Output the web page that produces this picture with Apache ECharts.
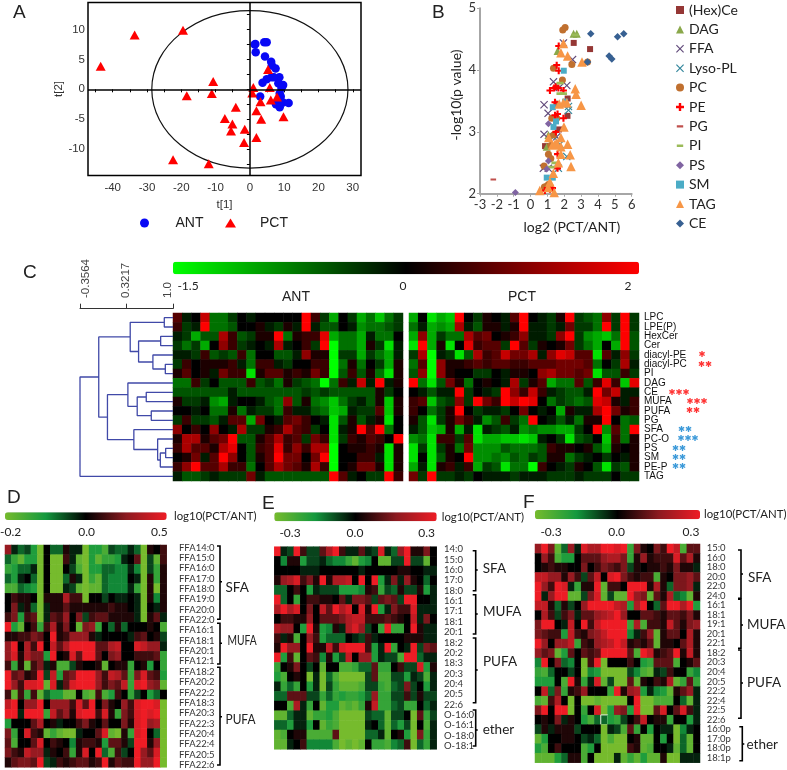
<!DOCTYPE html>
<html>
<head>
    <meta charset="UTF-8">
    <title></title>
    <style>html,body{margin:0;padding:0;background:#fff}</style>
</head>
<body>
    <div id="main" style="width:787px;height:770px"></div>
    <script src="https://cdn.jsdelivr.net/npm/echarts@6/dist/echarts.min.js"></script>
    <script>
        /* A: score plot */
        var antScores = [[1.6,7.6],[1.4,7.5],[4.2,7.9],[4.9,7.9],[1.7,6.2],[4.4,5.5],[6.2,4.6],[6.4,4.0],[7.5,3.5],[8.6,2.0],[6.3,2.0],[4.9,1.7],[3.7,1.1],[8.3,1.0],[9.7,0.7],[9.2,0.2],[8.7,-0.7],[9.0,-1.2],[3.0,-1.2],[7.6,-2.5],[8.7,-3.0],[9.7,-2.2],[11.3,-2.3],[8.6,-2.5],[7.0,2.0]];
        var pctScores = [[-43.5,3.85],[-33.6,9.1],[-19.5,9.9],[-10.7,1.3],[-11.1,-0.7],[-18.4,-1.1],[-4.1,-3.0],[-7.3,-4.9],[-5.1,-5.8],[-5.5,-7.0],[-1.5,-6.7],[-1.7,-8.9],[1.9,-8.1],[3.3,-5.0],[1.9,-3.6],[3.1,-2.1],[1.0,0.3],[0.7,-0.6],[5.3,3.3],[5.8,0.3],[6.1,-1.8],[7.9,-1.3],[9.8,-4.6],[-22.4,-11.8],[-12.0,-12.5]];
        var ellipseAxes = [0, 0, 28.6, 13.2];
        var aXTicks = [-45,-40,-35,-30,-25,-20,-15,-10,-5,0,5,10,15,20,25,30];
        var aXLabels = [-40,-30,-20,-10,0,10,20,30];
        var aYTicks = [-12.5,-10,-7.5,-5,-2.5,0,2.5,5,7.5,10,12.5];
        var aYLabels = [-10,-5,0,5,10];

        /* B: volcano plot */
        var bCer = [[2.56,4.44],[3.53,4.34],[2.2,3.54],[2.19,3.26],[1.69,3.04],[0.86,2.77]];
        var bDag = [[2.55,4.59],[2.74,4.59],[1.6,4.31],[1.06,2.95],[0.96,2.76]];
        var bFfa = [[1.95,4.44],[2.49,4.17],[1.36,3.81],[2.15,3.75],[1.71,3.72],[0.8,3.44],[1.04,3.3],[0.8,2.96],[1.55,2.92],[0.76,2.41],[1.05,2.41]];
        var bLyso = [[2.25,3.35],[2.25,3.41],[2.15,2.6],[1.65,2.41],[1.36,2.92],[1.75,2.8]];
        var bPc = [[2.05,4.69],[1.91,4.65],[1.36,4.03],[2.45,4.09],[1.89,3.84],[3.38,4.13],[1.26,3.22],[1.55,3.22],[1.55,3.45],[1.06,2.64],[1.2,2.57],[0.8,2.45],[0.82,2.11],[1.06,2.15],[1.36,2.95],[0.95,2.12],[1.2,2.78]];
        var bPe = [[1.67,4.39],[1.55,4.08],[1.67,3.99],[1.5,3.73],[1.15,3.67],[1.4,3.71],[1.65,3.71],[1.95,3.67],[1.45,3.48],[1.95,3.22],[1.45,3.27],[1.6,3.29],[1.5,3.0],[1.6,2.64],[1.6,2.41],[0.85,2.05],[1.15,2.07],[1.3,2.09]];
        var bPg = [[-2.21,2.23]];
        var bPi = [[2.65,4.57],[1.75,3.79],[1.75,3.62],[1.95,3.62],[1.45,2.5],[1.25,2.43]];
        var bPs = [[-0.9,2.02],[1.06,3.13],[1.06,2.53],[0.96,2.4]];
        var bSm = [[1.97,3.99],[1.32,3.4],[1.51,3.17],[1.36,3.08],[0.96,2.26],[1.32,2.26],[2.05,3.49]];
        var bTag = [[1.95,4.43],[1.8,4.28],[2.2,4.23],[3.05,4.13],[2.65,3.7],[2.7,3.61],[3.0,3.43],[1.95,3.47],[2.15,3.47],[1.7,3.45],[1.98,3.08],[1.8,2.91],[1.08,2.91],[1.45,2.8],[2.2,2.8],[1.8,2.76],[2.35,2.63],[1.8,2.64],[1.65,2.5],[2.4,2.44],[1.35,2.33],[1.15,2.19],[0.55,2.05],[1.4,2.02],[1.05,2.1],[1.55,2.82],[1.3,2.79]];
        var bCe = [[3.57,4.59],[5.16,4.54],[5.53,4.59],[4.66,4.23],[4.82,4.18],[3.38,4.13]];

        /* C: clustered heat map, levels -9 (green) .. 0 (black) .. 9 (red) */
        var cRowNames = ['LPC','LPE(P)','HexCer','Cer','diacyl-PE','diacyl-PC','PI','DAG','CE','MUFA','PUFA','PG','SFA','PC-O','PS','SM','PE-P','TAG'];
        var cAnt = [
            [3,-1,0,7,-4,-4,-2,0,-1,0,0,0,0,0,9,2,-2,-6,0,-2,-6,-4,-7,-4,-2],
            [2,-2,-1,9,-4,-4,-3,0,0,1,-1,-2,1,-1,9,-1,-3,-3,0,-1,-5,-4,-4,-3,-2],
            [-1,-2,-6,-3,-3,6,2,-3,-2,1,1,9,-4,1,2,2,8,-6,-4,-4,-6,-1,-4,-4,0],
            [-2,-4,-2,-6,0,5,2,-2,-1,0,-1,6,-1,0,2,-2,9,-9,-4,-4,-6,1,-2,-8,-1],
            [-1,-1,-2,2,-3,-2,-3,2,-4,0,0,-3,-3,-1,5,1,1,-9,-2,-2,-6,-2,-4,-6,-1],
            [-2,2,0,1,1,1,2,-1,-4,2,2,-1,-2,0,0,2,2,-9,-4,1,-4,0,-2,-6,1],
            [1,3,0,1,-1,4,2,2,-8,1,3,3,1,2,1,4,2,-9,-3,2,-3,1,-4,-8,1],
            [-4,-4,2,-2,0,-3,-3,-3,2,-3,-2,-4,1,-2,-3,-4,-9,-4,2,-1,7,-1,9,-1,1],
            [-3,-3,-3,-3,-3,-3,-1,-3,-3,-3,-3,-3,-3,-3,-2,-3,-2,-3,-3,-3,-3,-3,1,-2,0],
            [1,-2,-2,-1,-5,-6,-1,0,0,-1,-3,-4,5,-3,1,-4,-5,-7,-4,-2,-1,-3,1,-7,1],
            [0,0,-1,0,-4,-4,1,-4,-1,-2,-2,-4,2,-1,-1,-3,-4,-7,-6,-1,-2,-2,3,-7,1],
            [-2,2,-2,-2,-3,-1,3,3,-6,4,0,-1,3,4,2,0,-1,-8,-3,1,-3,-1,1,-8,0],
            [5,0,2,0,5,0,-1,6,-2,-2,1,2,6,3,2,-2,0,-8,-1,1,9,3,9,-4,0],
            [1,6,6,1,3,4,9,-3,-3,1,3,6,2,3,-2,4,2,-8,-2,2,1,3,2,0,9],
            [2,6,3,3,1,6,8,0,-3,2,3,8,2,5,2,6,6,-9,0,1,1,2,1,-8,1],
            [0,1,4,-1,3,9,5,0,-3,1,3,9,4,4,0,4,9,-9,0,0,2,2,-1,-8,1],
            [2,5,9,3,3,6,2,2,-4,0,3,6,4,3,1,6,2,-9,0,1,4,4,1,-8,1],
            [-1,-3,-3,-2,-1,-2,-2,-2,4,-1,-3,-3,-3,-3,-3,-3,-3,9,3,-1,0,-2,-2,9,2]
        ];
        var cPct = [
            [-6,0,-8,-6,-7,9,0,-2,1,0,-1,3,9,0,-1,-2,1,9,-2,-3,-4,5,-2,9,-2],
            [-4,-1,-6,-5,-6,6,-1,-3,1,1,-1,1,9,-1,-1,-2,-1,4,-2,-2,-4,9,-2,9,-2],
            [-6,5,-6,-2,-4,-4,6,3,4,0,1,2,5,-1,-1,-2,5,9,-2,-5,-6,-7,-4,9,-3],
            [-8,9,-6,1,-8,0,8,2,3,3,-2,9,3,-2,1,0,1,4,-2,-4,-6,0,-6,9,-3],
            [-2,6,-9,-1,-2,-8,-3,6,2,3,7,4,4,6,-1,5,8,7,3,3,-8,3,-1,5,-2],
            [-4,3,-9,5,1,1,2,3,2,3,3,2,2,3,3,3,4,4,4,3,-4,0,-2,6,-1],
            [-3,5,-9,5,1,0,0,-2,-2,0,-1,1,1,0,5,6,4,4,3,4,-8,-3,-3,2,-2],
            [9,-4,-8,-3,4,1,-4,0,1,0,-1,6,-2,1,3,-6,-4,-4,3,-3,2,8,2,-7,8],
            [0,-1,-3,-1,-1,9,-2,0,-1,-2,9,5,2,7,2,-1,-2,-3,-3,-1,9,4,7,-1,-1],
            [2,3,-7,-3,-2,5,-2,9,4,2,9,7,9,8,0,-4,-2,-3,-4,-3,8,7,1,-1,2],
            [2,0,-4,-2,1,9,0,-2,-1,-1,-2,0,4,0,-1,0,-6,1,-1,-1,6,9,4,1,2],
            [1,-3,-8,-2,1,4,2,-1,-5,-3,2,-2,-4,9,0,-1,-3,-1,-4,1,1,9,0,-4,-3],
            [-1,-3,-7,-6,1,-6,-1,-8,-1,-2,-3,-1,-5,-4,-5,-5,-6,-6,-2,0,9,-5,3,-4,9],
            [-5,-4,-8,2,2,-2,3,-8,-6,-6,-7,-7,-8,-7,-1,0,-2,-8,-3,-2,0,-7,2,-4,1],
            [-8,-2,-8,-2,1,-4,4,-5,-5,-5,-3,-4,-4,-4,-3,2,1,1,0,1,-3,-6,1,0,1],
            [-8,0,-8,-3,1,0,9,-5,-5,-4,-5,-3,-4,-2,-3,1,1,-4,-2,-1,0,-2,0,-1,1],
            [-6,-1,-8,1,2,-1,2,-6,-2,-3,-8,-4,-4,-9,2,0,-1,-2,1,0,-3,-8,-2,-3,1],
            [4,-2,9,-2,-2,-1,-2,0,-1,-1,-1,-2,-1,-1,-1,-2,-2,-2,-1,-2,-2,-2,0,-2,-2]
        ];
        /* merge similarity, child a, child b; children 0-17 are rows, 18+ are earlier merges */
        var cMerges = [[0.873,0,1],[0.820,2,3],[0.888,5,6],[0.707,4,20],[0.498,19,21],[0.376,18,22],[0.610,8,9],[0.683,10,11],[0.478,24,25],[0.342,7,26],[0.893,14,15],[0.815,28,16],[0.776,13,29],[0.429,12,30],[0.044,27,31],[-0.083,23,32],[-0.3564,33,17]];
        var cScale = [-0.3564, 0.3217, 1.0];
        var cStars = [['diacyl-PE',1,702,'#ff3333'],['diacyl-PC',2,705,'#ff3333'],['CE',3,679,'#ff3333'],['MUFA',3,697,'#ff3333'],['PUFA',2,693,'#ff3333'],['SFA',2,685,'#3d9ad9'],['PC-O',3,688,'#3d9ad9'],['PS',2,679,'#3d9ad9'],['SM',2,679,'#3d9ad9'],['PE-P',2,679,'#3d9ad9']];

        /* D */
        var dNames = ['FFA14:0','FFA15:0','FFA16:0','FFA17:0','FFA18:0','FFA19:0','FFA20:0','FFA22:0','FFA16:1','FFA18:1','FFA20:1','FFA12:1','FFA18:2','FFA20:2','FFA22:2','FFA18:3','FFA20:3','FFA22:3','FFA20:4','FFA22:4','FFA20:5','FFA22:6'];
        var dRows = [
            [5,-1,-3,-2,-5,-9,0,-3,-3,1,-1,-1,-9,-5,-5,-7,-2,-3,-3,-1,-3,-9,1,0,2],
            [-3,-6,-8,-5,-5,-9,0,-9,-9,2,-1,-8,-9,-5,-8,-6,-6,-5,-1,0,3,-9,-2,-8,2],
            [-6,-5,-3,-3,-1,-9,0,-9,-9,0,-2,-7,-9,-5,-5,-3,-3,-4,-4,-1,-4,-9,-2,-6,1],
            [-3,-5,-1,0,-3,-9,0,-9,-9,-3,1,-1,-9,-6,-8,-3,-4,-4,-4,0,-1,-9,1,-6,1],
            [-7,-7,-3,-4,-5,-9,0,-9,-9,-1,-2,-8,-9,-8,-8,-3,-4,-4,-4,-1,-6,-9,1,-9,1],
            [0,2,1,1,0,-9,1,1,1,6,2,2,-9,0,0,-2,0,-1,-1,0,-1,-9,1,-4,1],
            [0,4,-1,1,-3,-9,-1,1,1,3,1,1,1,1,1,1,2,1,1,0,-1,-9,0,-1,1],
            [2,4,-5,2,3,-9,-1,3,2,5,0,4,-2,2,3,3,1,1,1,1,-1,-9,1,3,-1],
            [9,-5,-8,0,2,-6,2,6,1,4,0,-8,4,5,-6,0,-3,1,-3,0,0,0,1,0,-7],
            [1,1,2,2,4,3,0,9,1,2,5,5,5,1,-1,0,0,0,0,-1,2,3,0,1,-2],
            [5,9,0,6,2,9,0,7,3,6,9,9,9,9,3,3,6,7,0,0,8,7,5,5,-1],
            [5,8,1,6,4,4,-5,9,0,1,8,3,9,9,3,0,4,5,0,0,2,2,2,3,-6],
            [2,-6,1,-8,2,4,-1,1,-7,-7,-2,1,0,0,1,-8,0,1,1,-6,0,1,-5,0,-6],
            [9,3,4,1,2,9,-2,7,-5,3,4,9,9,9,5,2,7,6,3,-6,4,8,3,2,-5],
            [9,5,2,8,8,9,-8,8,-1,3,8,9,9,9,5,2,4,3,7,-6,8,9,5,4,-8],
            [2,-8,2,-6,2,-8,-3,-5,-5,-8,-8,0,-7,-8,2,-7,-5,2,0,-6,-2,0,-5,-3,0],
            [7,9,0,5,5,9,0,5,5,5,2,8,3,9,0,4,1,0,5,2,8,9,9,8,-9],
            [9,9,-1,9,9,9,-6,7,3,5,1,8,9,9,2,8,1,-6,4,2,8,9,8,9,-9],
            [-5,0,0,0,3,6,0,1,-1,0,0,2,4,1,0,3,0,0,4,1,8,9,5,6,-9],
            [4,-6,0,8,2,1,-8,-6,-8,-9,-9,-1,0,0,3,8,-8,-9,1,-6,8,9,0,-3,-9],
            [3,-7,0,0,3,8,0,2,1,0,-4,1,2,2,1,-5,3,3,1,-2,9,9,1,5,-9],
            [4,2,1,7,5,5,-1,1,0,2,-6,1,8,0,9,-3,-7,2,-2,0,9,5,3,8,-9],
            [1,3,4,4,3,9,-2,-1,2,1,2,3,3,1,2,9,1,3,2,2,9,5,5,9,-9]
        ];

        /* E */
        var eNames = ['14:0','15:0','16:0','17:0','18:0','16:1','17:1','18:1','20:1','18:2','20:2','18:3','20:3','20:4','20:5','22:6','O-16:0','O-16:1','O-18:0','O-18:1'];
        var eRows = [
            [9,-1,-2,9,2,-2,-2,3,6,9,2,-1,-1,3,-1,-2,8,-1,-3,5,9,1,1,4,0],
            [0,-4,1,1,-5,-2,-2,-1,-3,-4,-4,-6,-8,-5,-4,0,-8,-8,-2,-2,9,-2,-2,-8,0],
            [0,0,0,0,-1,-1,-1,0,0,0,0,0,0,-1,0,0,0,0,0,1,1,0,0,-1,-1],
            [1,5,6,8,2,4,1,9,1,6,6,7,0,9,0,9,-5,-1,4,-1,5,1,0,-3,0],
            [-3,-3,0,2,0,-5,-1,-2,-2,-2,-5,-5,-5,-4,1,2,-6,-2,-3,1,-2,-2,1,-5,-1],
            [9,-3,0,-6,0,2,2,1,1,0,3,-1,4,4,3,-2,3,4,3,-2,9,9,0,0,-1],
            [6,9,6,8,0,4,0,7,3,9,6,8,0,8,1,9,-5,-1,4,2,2,8,-1,-1,-1],
            [0,2,2,1,1,5,0,3,3,3,4,6,7,7,2,2,2,3,2,1,0,7,-1,4,0],
            [6,5,5,0,-5,9,1,-5,-4,1,-1,6,8,5,-2,0,-6,9,-6,-6,0,9,1,-1,-1],
            [2,-1,1,-7,0,5,2,-5,-3,-3,-3,0,-1,-2,2,-1,0,0,0,0,1,1,1,-1,-1],
            [1,9,5,5,0,9,1,1,7,2,8,9,9,9,2,-5,-1,9,-6,0,-1,9,-2,4,3],
            [9,-5,2,-8,0,3,2,-4,1,-5,-2,7,0,5,5,-5,-1,-2,-2,-7,9,9,-3,-1,-1],
            [-6,0,1,4,0,-2,0,-8,0,0,-7,-7,-6,-3,-3,3,-6,-6,0,2,-2,-2,8,-5,1],
            [-5,-7,0,1,0,-9,-1,-9,-3,-7,-9,-9,-9,-9,-2,3,-7,-7,-2,-2,-5,-1,-2,-7,-1],
            [-1,-6,-3,-6,0,-5,-1,-9,-2,-6,-8,-8,-8,-7,-2,-2,-6,-7,-3,-2,4,-2,0,-5,-1],
            [-3,-3,3,3,3,-2,-2,-6,-3,-6,-5,-6,-6,-5,-3,5,-6,-6,-2,-2,2,-2,1,-2,-2],
            [0,0,-7,6,-1,-6,0,-8,-5,-5,-8,-7,-8,-6,1,7,-6,-6,-3,-2,-6,-6,0,-3,-1],
            [-8,-8,-3,-1,-1,-8,-6,-6,-5,-7,-9,-9,-9,-9,-2,-3,-3,-8,-2,-2,0,-9,3,-6,-2],
            [-3,-3,-5,-1,-1,-5,0,-8,-6,-7,-9,-9,-9,-9,-1,0,-3,-8,-3,-5,-2,-9,0,-7,-1],
            [-8,-7,0,1,1,-7,-7,-7,-7,3,-9,-9,-9,-9,-3,-3,-1,-8,0,1,-5,-9,4,-6,-1],
            [-8,-8,-1,0,2,-4,-4,-4,-4,-7,-9,-8,-9,-8,0,-6,-6,-7,-4,-3,2,-9,-3,-6,-1]
        ];

        /* F */
        var fNames = ['15:0','16:0','18:0','20:0','22:0','24:0','16:1','18:1','19:1','20:1','22:1','18:2','20:3','20:4','20:5','22:2','22:4','22:5','22:6','16:0p','17:0p','18:0p','18:1p'];
        var fRows = [
            [5,9,4,-8,-3,5,-1,8,6,6,9,9,8,9,-6,4,1,0,4,2,9,7,-7,3,3],
            [0,5,2,-7,-5,-5,0,3,3,3,5,6,6,4,-6,1,5,1,2,2,2,8,3,6,1],
            [0,1,2,1,1,0,0,4,0,2,4,3,2,4,-2,1,0,1,1,2,1,4,1,1,-1],
            [7,7,5,5,1,5,2,-2,3,7,0,8,9,4,2,1,2,2,-7,1,0,4,4,5,3],
            [9,5,2,9,8,-1,-6,1,1,9,-8,2,2,0,9,9,9,1,6,1,-3,4,4,5,-1],
            [9,-1,5,9,9,-8,-8,-2,4,8,-8,-2,-8,-8,9,5,4,-8,3,1,6,-3,-4,-8,1],
            [7,7,1,-3,1,-2,0,5,9,9,9,9,7,6,-5,6,9,0,-3,3,9,9,6,9,-5],
            [0,6,2,-2,2,4,-1,3,3,5,6,7,9,5,0,0,3,3,2,1,3,3,2,4,1],
            [4,9,9,0,-1,7,0,9,2,7,9,9,9,9,-6,6,-7,2,2,1,7,3,1,4,5],
            [4,3,2,2,-5,7,2,1,4,5,7,9,9,9,-4,-1,2,5,-8,1,3,3,0,6,1],
            [9,5,0,5,5,7,-6,2,1,5,6,7,9,7,1,2,1,3,-8,1,1,0,3,6,1],
            [5,3,4,-8,-5,3,0,3,2,3,9,9,9,9,3,-7,9,7,1,2,3,9,1,7,1],
            [-4,9,0,4,-3,-4,0,-9,2,9,-9,0,0,0,2,0,-5,-6,3,3,3,-7,0,1,3],
            [-6,-7,-3,0,0,-2,0,-9,-4,-5,-9,-9,-9,-9,-2,-4,-7,-8,-1,-2,2,0,0,-6,-4],
            [-5,-5,-5,0,-7,9,1,-6,-1,8,-8,-2,-9,-9,3,-8,1,0,2,1,6,-8,-6,3,-6],
            [0,7,-3,4,-6,1,2,5,0,0,0,-6,9,1,5,6,-5,-1,-4,-5,-8,1,3,5,-1],
            [-7,-8,2,6,0,-9,0,-9,-9,-8,-9,-9,-9,-9,0,9,-9,-9,-7,-7,-7,0,-3,-8,-1],
            [4,9,0,9,9,-9,0,-6,0,8,-9,-5,5,4,-5,9,-9,-9,3,8,0,3,8,2,-1],
            [0,1,0,4,-1,1,0,-5,-7,-3,-3,-5,-6,-2,0,2,7,0,1,1,-6,0,0,-5,-1],
            [-2,1,-1,1,1,1,-2,0,0,0,-9,-1,-2,-7,3,-6,0,-5,0,-1,-1,-9,-4,-1,0],
            [-8,-5,0,0,1,1,0,-2,-1,-3,-9,-7,-9,-9,0,1,-8,-8,0,-5,0,-9,-3,-8,0],
            [-5,-7,0,2,0,0,0,-7,-5,0,-9,-9,-9,-9,2,1,-8,-7,0,0,-1,-8,-3,-8,0],
            [-8,-8,-8,-5,-3,1,1,-7,0,-9,-9,-9,-1,-8,-6,-8,-5,-8,-8,1,-9,-9,-1,-1,-1]
        ];
        var fOutlinedCell = [10, 18];

        var arial = '"Liberation Sans", Arial, sans-serif';
        var lato = 'Lato, "Noto Sans", sans-serif';
        var lipidColors = ['#76bb2d','#14993e','#000000','#8c1a20','#ee1c25'];
        var redGreen = ['#00ff00','#000000','#ff0000'];

        var grids = [], xAxes = [], yAxes = [], series = [], visualMaps = [], gfx = [];

        function text(str, x, y, font, fill, align, rotation, scaleX) {
            gfx.push({type:'text', silent:true, x:x, y:y, rotation:rotation || 0, scaleX:scaleX || 1, style:{text:str, font:font, fill:fill || '#222', textAlign:align || 'left', textVerticalAlign:'middle'}});
        }

        function indexes(n) {
            var a = [];
            for (var i = 0; i < n; i++) a.push(i);
            return a;
        }

        function cells(rows, outlined) {
            var d = [];
            rows.forEach(function(row, r){
                row.forEach(function(v, c){
                    if (outlined && outlined[0] == c && outlined[1] == r) {
                        d.push({value:[c, r, v], itemStyle:{borderColor:'#e8f0e0', borderWidth:1}});
                    } else {
                        d.push([c, r, v]);
                    }
                });
            });
            return d;
        }

        /* one heat map on its own grid, returns the series index */
        function heatGrid(rows, left, right, top, bottom, names, outlined) {
            var g = grids.length;
            grids.push({left:left, top:top, width:right - left, height:bottom - top});
            xAxes.push({gridIndex:g, type:'category', data:indexes(rows[0].length), show:false});
            yAxes.push({
                gridIndex:g, type:'category', inverse:true, position:'right',
                data:names || indexes(rows.length),
                show:!!names,
                axisLine:{show:false}, axisTick:{show:false},
                axisLabel:{interval:0, margin:5, fontFamily:arial, fontSize:10, color:'#111'}
            });
            series.push({type:'heatmap', xAxisIndex:g, yAxisIndex:g, data:cells(rows, outlined), itemStyle:{borderWidth:0}, silent:true});
            return series.length - 1;
        }

        /* labels that do not share the cell pitch of the heat map beside them */
        function labelGrid(names, left, top, height) {
            var g = grids.length;
            grids.push({left:left, top:top, width:1, height:height});
            xAxes.push({gridIndex:g, type:'value', show:false});
            yAxes.push({
                gridIndex:g, type:'category', inverse:true, position:'left', data:names,
                axisLine:{show:false}, axisTick:{show:false},
                axisLabel:{interval:0, margin:0, align:'left', fontFamily:lato, fontSize:9.5, color:'#333'}
            });
        }

        function colorBar(seriesIdx, left, top, width, height, colors) {
            visualMaps.push({
                type:'continuous', seriesIndex:seriesIdx, dimension:2, min:-9, max:9,
                orient:'horizontal', left:left, top:top, itemWidth:height, itemHeight:width,
                padding:0, calculable:false, inRange:{color:colors}, hoverLink:false
            });
        }

        function bracket(x, y0, y1, tickY, name, labelX, labelY, scaleX) {
            gfx.push({type:'polyline', silent:true, shape:{points:[[x - 3, y0],[x, y0],[x, y1],[x - 3, y1]]}, style:{stroke:'#000', lineWidth:1.6, fill:'none'}});
            gfx.push({type:'line', silent:true, shape:{x1:x, y1:tickY, x2:x + 2, y2:tickY}, style:{stroke:'#000', lineWidth:1.6}});
            text(name, labelX, labelY, '13.5px ' + lato, '#222', 'left', 0, scaleX);
        }

        /* panel A */
        grids.push({left:88, top:2.5, width:273, height:173, show:true, borderColor:'#000', borderWidth:1.5, backgroundColor:'transparent'});
        xAxes.push({
            gridIndex:0, type:'value', min:-47.2, max:32.4, splitLine:{show:false},
            axisLine:{show:false}, name:'t[1]', nameLocation:'middle', nameGap:23,
            nameTextStyle:{fontFamily:arial, fontSize:11.5, color:'#333'},
            axisTick:{customValues:aXTicks, length:3, lineStyle:{color:'#000'}},
            axisLabel:{customValues:aXLabels, margin:6, fontFamily:arial, fontSize:11.5, color:'#333'}
        });
        yAxes.push({
            gridIndex:0, type:'value', min:-14.45, max:14.55, splitLine:{show:false},
            axisLine:{show:false}, name:'t[2]', nameLocation:'middle', nameGap:18,
            nameTextStyle:{fontFamily:arial, fontSize:11.5, color:'#333'},
            axisTick:{customValues:aYTicks, length:3, lineStyle:{color:'#000'}},
            axisLabel:{customValues:aYLabels, margin:3, fontFamily:arial, fontSize:11.5, color:'#333'}
        });
        series.push({
            type:'custom', xAxisIndex:0, yAxisIndex:0, data:[ellipseAxes], silent:true, clip:false, z:1,
            renderItem:function(params, api){
                var c = api.coord([api.value(0), api.value(1)]);
                var s = api.size([api.value(2), api.value(3)]);
                return {type:'ellipse', shape:{cx:c[0], cy:c[1], rx:s[0], ry:s[1]}, style:{stroke:'#111', fill:'none', lineWidth:1.2}};
            }
        });
        series.push({
            name:'ANT', type:'scatter', xAxisIndex:0, yAxisIndex:0, data:antScores,
            symbol:'circle', symbolSize:8.5, itemStyle:{color:'#0808f5', opacity:1}, z:3,
            markLine:{silent:true, symbol:'none', label:{show:false}, animation:false, lineStyle:{color:'#000', width:1.5, type:'solid'}, data:[{xAxis:0},{yAxis:0}]}
        });
        series.push({
            name:'PCT', type:'scatter', xAxisIndex:0, yAxisIndex:0, data:pctScores,
            symbol:'triangle', symbolSize:[10,9], itemStyle:{color:'#ff0000', opacity:1}, z:4
        });

        /* panel B */
        var xPath = 'path://M0,1L1,0L5,4L9,0L10,1L6,5L10,9L9,10L5,6L1,10L0,9L4,5Z';
        var plusPath = 'path://M3.5,0H6.5V3.5H10V6.5H6.5V10H3.5V6.5H0V3.5H3.5Z';
        var dashPath = 'path://M0,0V0Z M10,10V10Z M1,3.5H9V6.5H1Z';
        var bSeries = [
            ['(Hex)Cer', bCer, 'rect', 6, '#953735'],
            ['DAG', bDag, 'triangle', 8, '#8aa84a'],
            ['FFA', bFfa, xPath, 8, '#60497a'],
            ['Lyso-PL', bLyso, xPath, 8, '#31859b'],
            ['PC', bPc, 'circle', 7, '#c0702f'],
            ['PE', bPe, plusPath, 7, '#ff0000'],
            ['PG', bPg, dashPath, 7, '#c0504d'],
            ['PI', bPi, dashPath, 9, '#9bbb59'],
            ['PS', bPs, 'diamond', 7, '#8064a2'],
            ['SM', bSm, 'rect', 6, '#4bacc6'],
            ['TAG', bTag, 'triangle', 9.5, '#f79646'],
            ['CE', bCe, 'diamond', 7.5, '#376092']
        ];
        grids.push({left:480, top:8.3, width:151.7, height:185.4});
        xAxes.push({
            gridIndex:1, type:'value', min:-3, max:6, interval:1, splitLine:{show:false},
            axisLine:{onZero:false, lineStyle:{color:'#a6a6a6', width:2}},
            axisTick:{length:3, lineStyle:{color:'#a6a6a6'}},
            axisLabel:{margin:5, fontFamily:lato, fontSize:13, color:'#333'},
            name:'log2 (PCT/ANT)', nameLocation:'middle', nameGap:27,
            nameTextStyle:{fontFamily:lato, fontSize:14, color:'#222', padding:[0,0,0,32]}
        });
        yAxes.push({
            gridIndex:1, type:'value', min:2, max:5, interval:1, splitLine:{show:false},
            axisLine:{onZero:false, lineStyle:{color:'#a6a6a6', width:2}},
            axisTick:{length:3, lineStyle:{color:'#a6a6a6'}},
            axisLabel:{margin:4, fontFamily:lato, fontSize:13, color:'#333'},
            name:'-log10(p value)', nameLocation:'middle', nameGap:17,
            nameTextStyle:{fontFamily:lato, fontSize:14, color:'#222', padding:[0,0,0,12]}
        });
        bSeries.forEach(function(s){
            series.push({name:s[0], type:'scatter', xAxisIndex:1, yAxisIndex:1, data:s[1], symbol:s[2], symbolSize:s[3], itemStyle:{color:s[4], opacity:1}, clip:false, z:3});
        });

        /* panel C: dendrogram read against the similarity scale */
        var nodes = [];
        for (var i = 0; i < 18; i++) nodes.push({v:1, y:i + 0.5});
        var dendro = [];
        cMerges.forEach(function(m){
            var a = nodes[m[1]], b = nodes[m[2]];
            dendro.push([a.v, a.y], [m[0], a.y], [m[0], b.y], [b.v, b.y], ['-', '-']);
            nodes.push({v:m[0], y:(a.y + b.y) / 2});
        });
        var gd = grids.length;
        grids.push({left:80, top:313, width:93, height:168});
        xAxes.push({
            gridIndex:gd, type:'value', position:'top', offset:4.3, min:cScale[0], max:cScale[2],
            splitLine:{show:false},
            axisLine:{onZero:false, lineStyle:{color:'#333', width:1}},
            axisTick:{customValues:cScale, length:5, lineStyle:{color:'#333'}},
            axisLabel:{show:false}
        });
        yAxes.push({gridIndex:gd, type:'value', inverse:true, min:0, max:18, show:false});
        series.push({type:'line', xAxisIndex:gd, yAxisIndex:gd, data:dendro, showSymbol:false, silent:true, connectNulls:false, lineStyle:{color:'#4049a8', width:1.3}, clip:false});
        text(String(cScale[0]), 85.5, 298, '11.5px ' + arial, '#444', 'left', Math.PI / 2);
        text(String(cScale[1]), 126, 298, '11.5px ' + arial, '#444', 'left', Math.PI / 2);
        text('1.0', 168, 298, '11.5px ' + arial, '#444', 'left', Math.PI / 2);

        var cA = heatGrid(cAnt, 173, 403, 313, 481, null);
        var cB = heatGrid(cPct, 409, 639, 313, 481, cRowNames);
        colorBar([cA, cB], 173, 261.7, 466, 12.6, redGreen);
        text('-1.5', 188, 286, '12px ' + lato, '#222', 'center');
        text('0', 403, 286, '12px ' + lato, '#222', 'center');
        text('2', 628, 286, '12px ' + lato, '#222', 'center');
        text('ANT', 296, 297, '14px ' + arial, '#222', 'center');
        text('PCT', 522, 297, '14px ' + arial, '#222', 'center');
        cStars.forEach(function(s){
            var marks = '';
            for (var k = 0; k < s[1]; k++) marks += '\u2731';
            text(marks, s[2], 313 + 168 / 18 * (cRowNames.indexOf(s[0]) + 0.5), '8.4px "DejaVu Sans"', s[3], 'center');
        });

        /* panel D */
        var dIdx = heatGrid(dRows, 5, 166.7, 545, 767.3);
        colorBar(dIdx, 5, 512.3, 161.7, 7.7, lipidColors);
        labelGrid(dNames, 179, 542.5, 227.7);
        text('-0.2', 10.7, 531.7, '12px ' + lato, '#222', 'center');
        text('0.0', 86.7, 531.7, '12px ' + lato, '#222', 'center');
        text('0.5', 159.3, 531.7, '12px ' + lato, '#222', 'center');
        text('log10(PCT/ANT)', 174, 516.7, '11.4px ' + lato);
        bracket(220, 546, 619.3, 581.7, 'SFA', 225.5, 587.7);
        bracket(220, 623.3, 664, 643.3, 'MUFA', 227.5, 640.7, 0.76);
        bracket(220, 667.3, 765, 716.7, 'PUFA', 225.5, 719.3, 0.88);

        /* panel E */
        var eIdx = heatGrid(eRows, 274.3, 436.7, 546.7, 749.3);
        colorBar(eIdx, 274.3, 512.3, 162.4, 9, lipidColors);
        labelGrid(eNames, 444, 544, 207.3);
        text('-0.3', 290, 533.3, '12px ' + lato, '#222', 'center');
        text('0.0', 355, 533.3, '12px ' + lato, '#222', 'center');
        text('0.3', 426.7, 533.3, '12px ' + lato, '#222', 'center');
        text('log10(PCT/ANT)', 441.7, 517.7, '11.4px ' + lato);
        bracket(475.7, 550.7, 590.7, 570, 'SFA', 482.7, 569);
        bracket(475.7, 594.7, 634, 614, 'MUFA', 483, 612);
        bracket(475.7, 638, 702.7, 670, 'PUFA', 483, 661.7);
        bracket(475.7, 710, 746, 730, 'ether', 482.7, 730);

        /* panel F */
        var fIdx = heatGrid(fRows, 535, 700, 544, 762.7, null, fOutlinedCell);
        colorBar(fIdx, 535, 510, 165, 9.3, lipidColors);
        labelGrid(fNames, 706.7, 543.3, 219.2);
        text('-0.3', 551, 531.7, '12px ' + lato, '#222', 'center');
        text('0.0', 616.7, 531.7, '12px ' + lato, '#222', 'center');
        text('0.3', 691, 531.7, '12px ' + lato, '#222', 'center');
        text('log10(PCT/ANT)', 704, 514, '11.4px ' + lato);
        bracket(741, 550, 598.3, 574, 'SFA', 748, 577.7);
        bracket(741, 599.3, 648.3, 625, 'MUFA', 747, 625);
        bracket(741, 650, 718.3, 683, 'PUFA', 747, 683);
        bracket(742.3, 726.7, 760.7, 744, 'ether', 746.5, 744.3);

        /* panel letters */
        text('A', 13, 13, '19px ' + arial);
        text('B', 432, 13, '19px ' + arial);
        text('C', 23, 272.5, '19px ' + arial);
        text('D', 7, 497.5, '19px ' + arial);
        text('E', 262, 504, '19px ' + arial);
        text('F', 523, 503, '19px ' + arial);

        var app = echarts.init(document.getElementById('main'));
        option = {
            animation:false,
            backgroundColor:'#fff',
            tooltip:{show:false},
            legend:[
                {data:[{name:'ANT'}], left:140, top:216, padding:0, itemWidth:10, itemHeight:9, selectedMode:false, textStyle:{fontFamily:arial, fontSize:14, color:'#222', padding:[0,0,0,21]}},
                {data:[{name:'PCT'}], left:225, top:216, padding:0, itemWidth:11, itemHeight:9, selectedMode:false, textStyle:{fontFamily:arial, fontSize:14, color:'#222', padding:[0,0,0,19]}},
                {data:bSeries.map(function(s){ return {name:s[0]}; }), orient:'vertical', left:676, top:3, padding:0, itemWidth:8, itemHeight:8, itemGap:5.4, selectedMode:false, textStyle:{fontFamily:lato, fontSize:14, color:'#222', width:53, overflow:'truncate', ellipsis:''}}
            ],
            grid:grids,
            xAxis:xAxes,
            yAxis:yAxes,
            visualMap:visualMaps,
            series:series,
            graphic:{elements:gfx}
        };
        app.setOption(option);
    </script>
</body>
</html>
